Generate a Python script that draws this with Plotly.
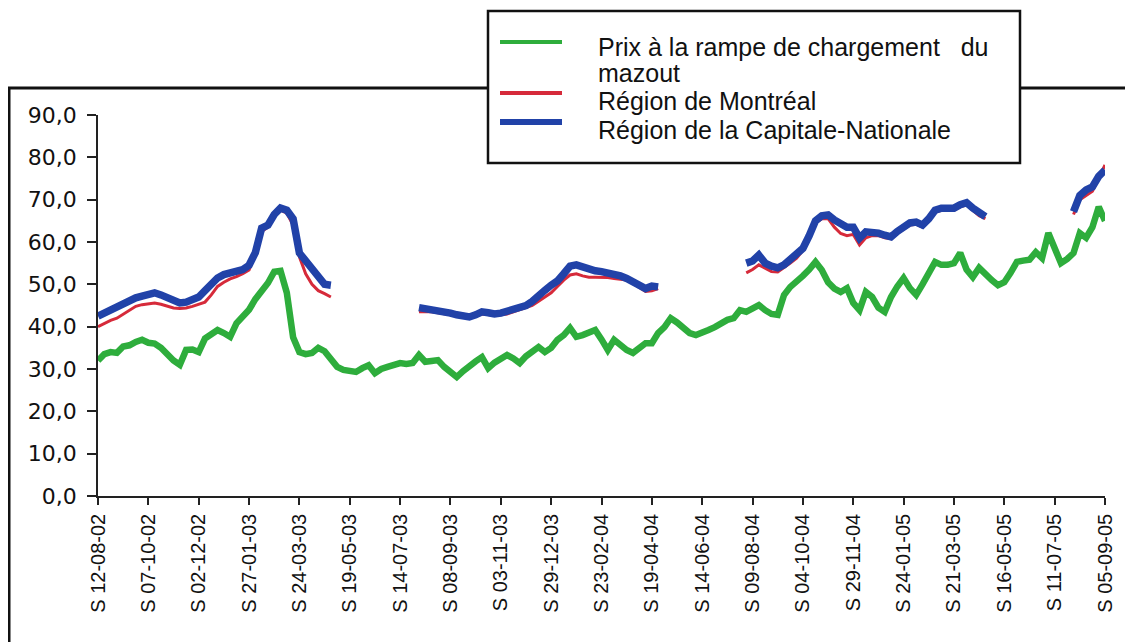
import pandas as pd
import plotly.graph_objects as go

# ---------------- data ----------------
start_date = "2002-08-12"
n_weeks = 161
weeks = pd.date_range(start_date, periods=n_weeks, freq="7D")

tick_step = 8
tick_labels = ["S 12-08-02", "S 07-10-02", "S 02-12-02", "S 27-01-03", "S 24-03-03",
               "S 19-05-03", "S 14-07-03", "S 08-09-03", "S 03-11-03", "S 29-12-03",
               "S 23-02-04", "S 19-04-04", "S 14-06-04", "S 09-08-04", "S 04-10-04",
               "S 29-11-04", "S 24-01-05", "S 21-03-05", "S 16-05-05", "S 11-07-05",
               "S 05-09-05"]

y_ticks = [0, 10, 20, 30, 40, 50, 60, 70, 80, 90]

series_names = ["Prix à la rampe de chargement du mazout",
                "Région de Montréal",
                "Région de la Capitale-Nationale"]

# Prix à la rampe de chargement du mazout (weekly, 161 weeks)
mazout = [32.0, 33.5, 34.0, 33.8, 35.3, 35.6, 36.4, 36.9, 36.2, 36.0,
          35.0, 33.3, 32.0, 31.0, 34.5, 34.6, 34.0, 37.2, 38.2, 39.2,
          38.5, 37.6, 40.8, 42.5, 44.0, 46.5, 48.5, 50.3, 53.0, 53.2,
          48.0, 37.5, 34.0, 33.5, 33.8, 35.0, 34.2, 32.6, 30.5, 29.8,
          29.5, 29.3, 30.2, 30.9, 29.0, 30.0, 30.5, 31.0, 31.4, 31.2,
          31.4, 33.3, 31.7, 31.9, 32.1, 30.5, 29.5, 28.1, 29.5, 30.9,
          31.8, 32.8, 30.2, 31.5, 32.6, 33.3, 32.5, 31.4, 33.0, 34.2,
          35.2, 34.0, 35.0, 36.9, 38.0, 39.7, 37.6, 38.0, 38.6, 39.2,
          37.0, 34.5, 36.9, 35.5, 34.5, 33.8, 35.0, 36.1, 36.1, 38.5,
          39.9, 42.0, 41.0, 39.9, 38.5, 38.0, 38.8, 39.2, 39.9, 40.8,
          41.6, 42.0, 43.9, 43.5, 44.5, 45.1, 43.9, 43.0, 42.8, 47.5,
          49.4, 50.6, 52.0, 53.5, 55.3, 53.4, 50.5, 49.0, 48.2, 49.1,
          45.6, 43.9, 48.2, 47.0, 44.5, 43.5, 47.0, 49.5, 51.5, 49.1,
          47.5, 50.0, 53.0, 55.3, 54.6, 54.6, 55.0, 57.4, 53.5, 51.7,
          53.9, 52.2, 51.0, 49.8, 50.5, 52.7, 55.3, 55.6, 55.8, 57.6,
          56.2, 62.1, 58.1, 55.0, 56.0, 57.4, 62.1, 61.0, 63.5, 68.3, 65.0]

# first week index of each reported stretch (gaps between them)
segment_starts = [0, 51, 103, 155]

# Région de Montréal, per stretch
montreal_s1 = [40.0, 40.8, 41.5, 42.0, 43.0, 44.0, 44.8, 45.2, 45.4, 45.6,
               45.3, 44.8, 44.4, 44.3, 44.4, 44.8, 45.3, 45.8, 47.5, 49.5,
               50.5, 51.3, 51.8, 52.5, 53.4, 57.0, 62.5, 63.5, 66.0, 67.5,
               66.8, 64.0, 56.5, 52.5, 50.0, 48.5, 47.8, 47.0]
montreal_s2 = [43.5, 43.6, 43.5, 43.3, 43.0, 42.8, 42.5, 42.2, 42.0, 42.5,
               43.0, 42.9, 42.7, 42.8, 43.0, 43.5, 44.0, 44.5, 45.0, 46.0,
               47.0, 48.0, 49.5, 51.0, 52.2, 52.5, 52.0, 51.7, 51.7, 51.7,
               51.6, 51.4, 51.2, 51.0, 50.2, 49.2, 48.3, 48.5, 49.0]
montreal_s3 = [52.7, 53.5, 54.6, 53.8, 53.0, 52.9, 53.9, 55.0, 56.2, 58.0,
               61.0, 64.5, 65.5, 65.5, 63.5, 62.0, 61.5, 61.8, 59.3, 61.0,
               61.5, 61.5, 61.0, 60.8, 62.0, 63.0, 64.0, 64.2, 63.5, 65.0,
               67.0, 67.5, 67.5, 67.5, 68.3, 68.8, 67.5, 66.2, 65.5]
montreal_s4 = [66.5, 70.0, 71.0, 72.0, 75.0, 78.2]

# Région de la Capitale-Nationale, per stretch
capitale_s1 = [42.5, 43.2, 44.0, 44.7, 45.5, 46.3, 46.8, 47.2, 47.5, 48.0,
               47.5, 46.8, 46.0, 45.6, 45.8, 46.3, 47.0, 48.5, 50.3, 51.5,
               52.3, 52.7, 53.0, 53.5, 54.5, 57.5, 63.3, 64.0, 66.5, 68.0,
               67.5, 65.5, 57.4, 55.5, 53.5, 51.5, 50.0, 49.8]
capitale_s2 = [44.5, 44.3, 44.0, 43.8, 43.5, 43.2, 42.8, 42.5, 42.3, 42.8,
               43.5, 43.3, 43.0, 43.2, 43.6, 44.2, 44.5, 45.0, 46.0, 47.5,
               48.6, 49.8, 50.8, 52.5, 54.3, 54.6, 54.0, 53.6, 53.2, 53.0,
               52.8, 52.5, 52.0, 51.4, 50.5, 49.8, 49.0, 49.6, 49.4]
capitale_s3 = [55.0, 55.5, 56.9, 55.0, 54.3, 53.9, 54.6, 55.8, 56.9, 58.5,
               61.5, 65.0, 66.2, 66.4, 65.2, 64.5, 63.5, 63.5, 60.9, 62.4,
               62.3, 62.1, 61.6, 61.2, 62.5, 63.5, 64.5, 64.7, 64.0, 65.5,
               67.5, 68.0, 67.8, 68.0, 68.8, 69.3, 68.0, 66.8, 66.0]
capitale_s4 = [67.2, 71.0, 72.3, 73.0, 75.5, 77.0]


def with_gaps(starts, segments):
    full = [None] * n_weeks
    for s, seg in zip(starts, segments):
        full[s:s + len(seg)] = seg
    return full


montreal = with_gaps(segment_starts, [montreal_s1, montreal_s2, montreal_s3, montreal_s4])
capitale = with_gaps(segment_starts, [capitale_s1, capitale_s2, capitale_s3, capitale_s4])

# ---------------- styling ----------------
PAGE_OFFSET = 8            # default page margin around the figure
W, H = 1133 - PAGE_OFFSET, 642 - PAGE_OFFSET
L, R, T, B = 90, 28, 107, 146
PW, PH = W - L - R, H - T - B

GREEN = "#2ead3c"
RED = "#d62a3a"
BLUE = "#2142a8"


def xp(page_px):
    return (page_px - PAGE_OFFSET - L) / PW


def yp(page_py):
    return (H - B - (page_py - PAGE_OFFSET)) / PH


fig = go.Figure()
fig.add_trace(go.Scatter(x=weeks, y=mazout, mode="lines", name=series_names[0],
                         line=dict(color=GREEN, width=6.5), showlegend=False))
fig.add_trace(go.Scatter(x=weeks, y=montreal, mode="lines", name=series_names[1],
                         line=dict(color=RED, width=3), connectgaps=False, showlegend=False))
fig.add_trace(go.Scatter(x=weeks, y=capitale, mode="lines", name=series_names[2],
                         line=dict(color=BLUE, width=7.5), connectgaps=False, showlegend=False))

tickvals = list(weeks[::tick_step])
xrange_ = [weeks[0], weeks[-1]]

axis_font_x = dict(family="Liberation Sans, Arial, sans-serif", size=20, color="#111")
axis_font_y = dict(family="DejaVu Sans, sans-serif", size=22, color="#111")

fig.update_layout(
    template="none",
    width=W, height=H,
    margin=dict(l=L, r=R, t=T, b=B, pad=0, autoexpand=False),
    paper_bgcolor="white", plot_bgcolor="white",
    separators=", ",
    showlegend=False,
    xaxis=dict(type="date", range=xrange_, tickvals=tickvals, ticktext=tick_labels,
               tickangle=-90, tickfont=axis_font_x, showgrid=False, zeroline=False,
               showline=True, linecolor="#222", linewidth=1.5, automargin=False,
               ticks="outside", ticklen=7, tickwidth=1.5, tickcolor="#222",
               ticklabelstandoff=1),
    xaxis2=dict(type="date", range=xrange_, overlaying="x", anchor="y", automargin=False,
                tickvals=tickvals, showticklabels=False, showgrid=False, zeroline=False,
                showline=False, ticks="inside", ticklen=4, tickwidth=1.5, tickcolor="#222"),
    yaxis=dict(range=[0, 90], tickvals=y_ticks, tickformat=".1f", tickfont=axis_font_y,
               showgrid=False, zeroline=False, showline=True, linecolor="#222", linewidth=1.5,
               ticks="outside", ticklen=9, tickwidth=1.5, tickcolor="#222", automargin=False,
               ticklabelstandoff=6),
    yaxis2=dict(range=[0, 90], overlaying="y", anchor="x", side="left", automargin=False,
                tickvals=y_ticks, showticklabels=False, showgrid=False, zeroline=False,
                showline=False, ticks="inside", ticklen=4, tickwidth=1.5, tickcolor="#222"),
)

shapes = []
# outer frame (partly cut by the page edge)
shapes.append(dict(type="rect", xref="paper", yref="paper",
                   x0=xp(9), x1=xp(1160), y0=yp(670), y1=yp(88),
                   line=dict(color="#111", width=3), fillcolor="rgba(0,0,0,0)", layer="above"))
# legend box
shapes.append(dict(type="rect", xref="paper", yref="paper",
                   x0=xp(488), x1=xp(1020), y0=yp(163), y1=yp(11),
                   line=dict(color="#111", width=2.5), fillcolor="white", layer="above"))
legend_rows = [(GREEN, 4, 42), (RED, 4, 93), (BLUE, 6, 122)]
for color, w, ly in legend_rows:
    shapes.append(dict(type="line", xref="paper", yref="paper",
                       x0=xp(500), x1=xp(562), y0=yp(ly), y1=yp(ly),
                       line=dict(color=color, width=w), layer="above"))
fig.update_layout(shapes=shapes)

legend_font = dict(family="Liberation Sans, Arial, sans-serif", size=25, color="#111")
legend_lines = ["Prix à la rampe de chargement\u00a0\u00a0 du", "mazout",
                series_names[1], series_names[2]]
legend_text_y = [47, 73, 101, 130]
for txt, ty in zip(legend_lines, legend_text_y):
    fig.add_annotation(xref="paper", yref="paper", x=xp(596), y=yp(ty),
                       text=txt, showarrow=False, xanchor="left", yanchor="middle",
                       font=legend_font)

fig.write_html("out.html")
